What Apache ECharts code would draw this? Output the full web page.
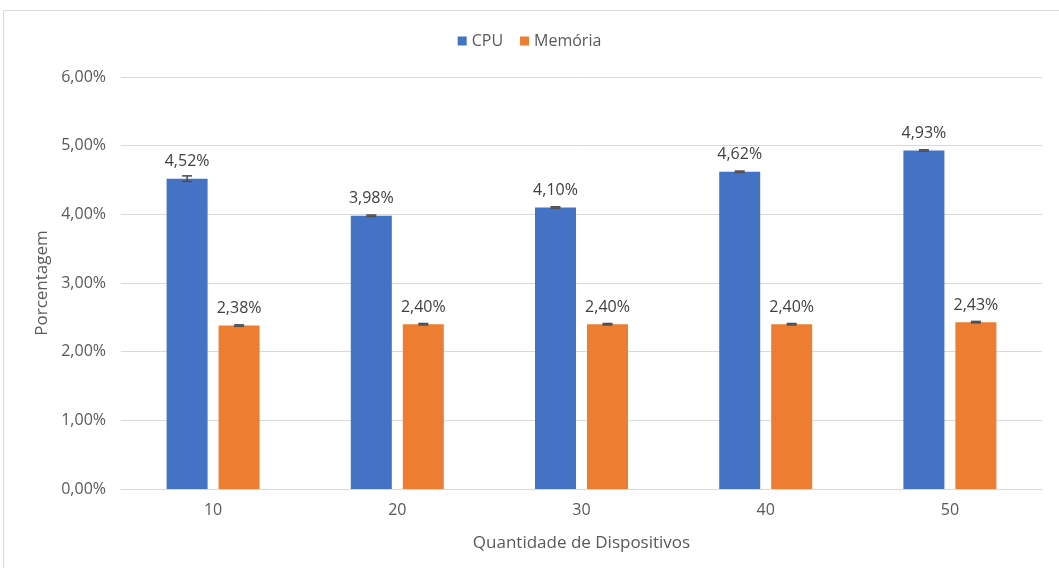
<!DOCTYPE html>
<html>
<head>
<meta charset="utf-8">
<script src="https://cdn.jsdelivr.net/npm/echarts@6/dist/echarts.min.js"></script>
<style>
  html, body { margin: 0; padding: 0; background: #fff; }
  #chart { width: 1059px; height: 568px; }
</style>
</head>
<body>
<div id="chart"></div>
<script>
// dados
var categorias = ['10', '20', '30', '40', '50'];
var cpu = [4.52, 3.98, 4.10, 4.62, 4.93];
var memoria = [2.38, 2.40, 2.40, 2.40, 2.43];
// desvio (barra de erro)
var erroCpu = [0.04, 0.01, 0.01, 0.01, 0.01];
var erroMemoria = [0.01, 0.01, 0.01, 0.01, 0.01];

var fonte = 'Open Sans, Noto Sans, sans-serif';
var larguraBarra = 41;
var espaco = 11;

function fmt(v) {
    return v.toFixed(2).replace('.', ',') + '%';
}

function dadosErro(valores, erros) {
    var out = [];
    for (var i = 0; i < valores.length; i++) {
        out.push([i, valores[i] - erros[i], valores[i] + erros[i]]);
    }
    return out;
}

// desenha a barra de erro deslocada para cima da barra certa
function barraErro(desloc) {
    return function (params, api) {
        var x = api.value(0);
        var lo = api.coord([x, api.value(1)]);
        var hi = api.coord([x, api.value(2)]);
        var cx = lo[0] + desloc;
        var half = 5;
        var estilo = { stroke: '#505050', lineWidth: 1.6 };
        return {
            type: 'group',
            children: [
                { type: 'line', shape: { x1: cx, y1: lo[1], x2: cx, y2: hi[1] }, style: estilo },
                { type: 'line', shape: { x1: cx - half, y1: lo[1], x2: cx + half, y2: lo[1] }, style: estilo },
                { type: 'line', shape: { x1: cx - half, y1: hi[1], x2: cx + half, y2: hi[1] }, style: estilo }
            ]
        };
    };
}

var chart = echarts.init(document.getElementById('chart'));
var desloc = (larguraBarra + espaco) / 2;

var rotulo = {
    show: true,
    position: 'top',
    distance: 9,
    color: '#404040',
    fontSize: 16,
    fontFamily: fonte,
    formatter: function (p) { return fmt(p.value); }
};

chart.setOption({
    animation: false,
    graphic: [{
        type: 'rect',
        shape: { x: 3.5, y: 10.5, width: 1100, height: 600 },
        style: { fill: 'none', stroke: '#d9d9d9', lineWidth: 1 },
        silent: true
    }],
    legend: {
        top: 28,
        left: 'center',
        itemWidth: 9,
        itemHeight: 9,
        itemGap: 17,
        icon: 'rect',
        textStyle: { color: '#595959', fontSize: 16, fontFamily: fonte },
        data: ['CPU', 'Memória']
    },
    grid: { left: 121, right: 17, top: 77, bottom: 79 },
    xAxis: {
        type: 'category',
        data: categorias,
        name: 'Quantidade de Dispositivos',
        nameLocation: 'middle',
        nameGap: 46,
        nameTextStyle: { color: '#595959', fontSize: 17, fontFamily: fonte },
        axisLine: { lineStyle: { color: '#d9d9d9', width: 1 } },
        axisTick: { show: false },
        axisLabel: { color: '#595959', fontSize: 16, fontFamily: fonte, margin: 13 }
    },
    yAxis: {
        type: 'value',
        min: 0,
        max: 6,
        interval: 1,
        name: 'Porcentagem',
        nameLocation: 'middle',
        nameGap: 70,
        nameTextStyle: { color: '#595959', fontSize: 17, fontFamily: fonte },
        axisLine: { show: false },
        axisTick: { show: false },
        splitLine: { lineStyle: { color: '#d9d9d9', width: 1 } },
        axisLabel: {
            color: '#595959', fontSize: 16, fontFamily: fonte, margin: 15,
            formatter: function (v) { return fmt(v); }
        }
    },
    series: [{
        name: 'CPU',
        type: 'bar',
        data: cpu,
        barWidth: larguraBarra,
        barGap: (espaco / larguraBarra * 100).toFixed(1) + '%',
        itemStyle: { color: '#4472C4' },
        label: rotulo
    }, {
        name: 'Memória',
        type: 'bar',
        data: memoria,
        barWidth: larguraBarra,
        itemStyle: { color: '#ED7D31' },
        label: rotulo
    }, {
        type: 'custom',
        renderItem: barraErro(-desloc),
        data: dadosErro(cpu, erroCpu),
        encode: { x: 0, y: [1, 2] },
        z: 10,
        silent: true
    }, {
        type: 'custom',
        renderItem: barraErro(desloc),
        data: dadosErro(memoria, erroMemoria),
        encode: { x: 0, y: [1, 2] },
        z: 10,
        silent: true
    }]
});
</script>
</body>
</html>
